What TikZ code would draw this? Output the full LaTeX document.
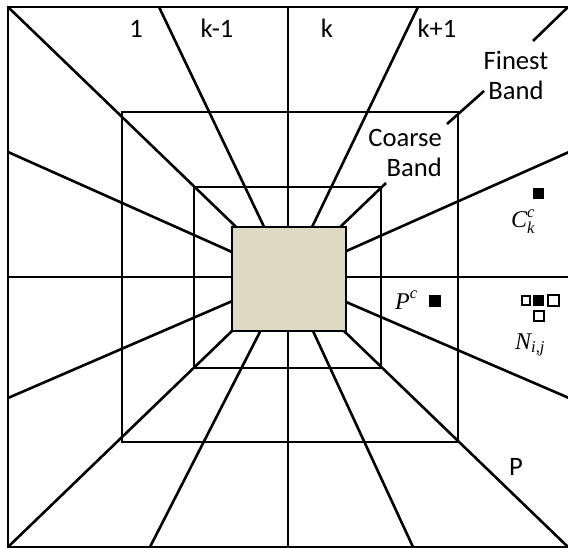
\documentclass[tikz,border=0pt]{standalone}
\usepackage{fontspec}
\setmainfont{Carlito}
\newfontfamily\serifit{Liberation Serif}
\newcommand{\mbig}[1]{\hbox{\fontsize{24}{26}\serifit\itshape #1}}
\newcommand{\msmall}[1]{\hbox{\fontsize{16.5}{18}\serifit\itshape #1}}
\definecolor{beige}{HTML}{DDD9C3}
\begin{document}
\begin{tikzpicture}[x=1pt,y=-1pt,
  ln/.style={line width=2.6pt},
  lbl/.style={font=\fontsize{26.6}{30}\selectfont, inner sep=0pt, anchor=base},
  mlbl/.style={font=\fontsize{22}{24}\selectfont, inner sep=0pt, anchor=base west},
  fsq/.style={fill=black, draw=none},
  osq/.style={draw=black, line width=1.2pt, fill=white}]
\useasboundingbox (0,0) rectangle (568,548);
\coordinate (C) at (288,277);
% corner points of outer frame
\coordinate (TL) at (8,7);
\coordinate (TR) at (568,7);
\coordinate (BL) at (8,547);
\coordinate (BR) at (568,547);
% radial lines
\draw[ln] (C) -- (TL);
\draw[ln] (C) -- (159,7);
\draw[ln] (288,7) -- (288,547);
\draw[ln] (C) -- (418,7);
\draw[ln] (C) -- (8,152);
\draw[ln] (8,277) -- (569,277);
\draw[ln] (C) -- (8,398);
\draw[ln] (C) -- (569,152);
\draw[ln] (C) -- (569,398);
\draw[ln] (C) -- (BL);
\draw[ln] (C) -- (150,547);
\draw[ln] (C) -- (413,547);
\draw[ln] (C) -- (BR);
% top-right diagonal, broken by the labels
\draw[ln] (TR) -- (533,41);
\draw[ln] (484,91) -- (447,124);
\draw[ln] (386,183) -- (C);
% frames
\draw[ln] (8,7) rectangle (569,547);
\draw[ln] (122,112) rectangle (458,442);
\draw[ln] (194,187) rectangle (381,368);
\draw[ln, fill=beige] (232,227) rectangle (346,331);
% labels
\node[lbl] (l1) at (136,38) {1};
\node[lbl] (lkm) at (217,38) {k-1};
\node[lbl] (lk) at (327,38) {k};
\node[lbl] (lkp) at (437,38) {k+1};
\node[lbl] (fin1) at (516,70) {Finest};
\node[lbl] (fin2) at (516,100) {Band};
\node[lbl, anchor=base east] (co1) at (442,147) {Coarse};
\node[lbl, anchor=base east] (co2) at (442,177) {Band};
\node[lbl] (lp) at (516,475) {P};
\node[mlbl] (ck) at (511,228) {$\mbig{C}_{\msmall{k}}^{\msmall{c}}$};
\node[mlbl] (pc) at (395,309) {$\mbig{P}^{\msmall{c}}$};
\node[mlbl] (nij) at (515,349) {$\mbig{N}_{\msmall{i,j}}$};
% markers
\fill[fsq] (533,188) rectangle (544,199);
\fill[fsq] (429,295) rectangle (441,307);
\fill[fsq] (533,295) rectangle (544,306);
\draw[osq] (522,296) rectangle (530,305);
\draw[osq] (548,295) rectangle (559,306);
\draw[osq] (534,311) rectangle (544,321);
\end{tikzpicture}
\end{document}
